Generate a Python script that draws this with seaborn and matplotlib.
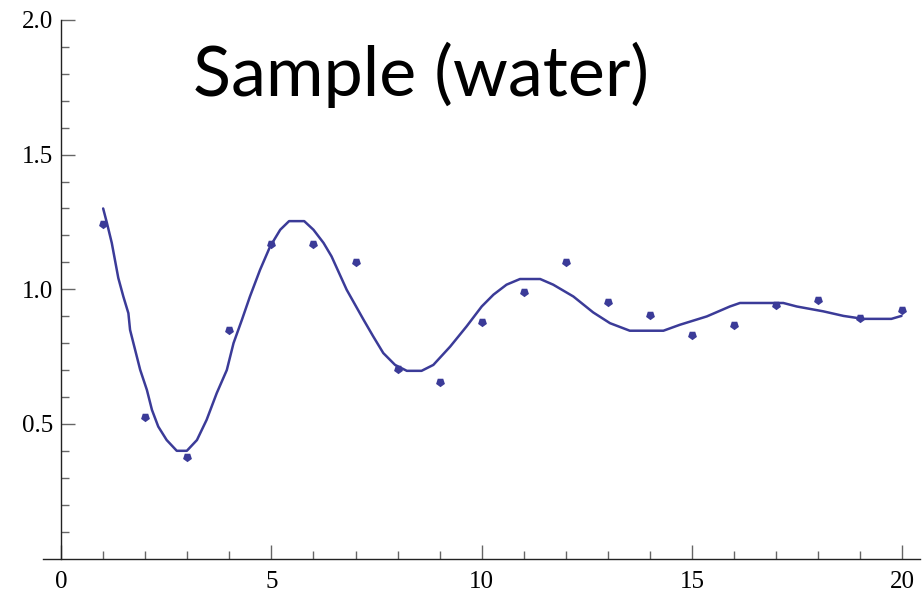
import matplotlib
matplotlib.use("Agg")
import matplotlib.pyplot as plt
from matplotlib.ticker import MultipleLocator, FixedLocator
import seaborn as sns
import pandas as pd

# Measured samples
sample_x = list(range(1, 21))
sample_y = [1.243, 0.524, 0.378, 0.849, 1.168, 1.168, 1.101, 0.703, 0.655, 0.878,
            0.990, 1.101, 0.952, 0.905, 0.831, 0.868, 0.942, 0.961, 0.895, 0.924]

# Fitted curve
fit_x = [1.00, 1.09, 1.205, 1.36, 1.48, 1.60, 1.64, 1.76, 1.88, 2.04, 2.16, 2.31, 2.51,
         2.75, 2.99, 3.23, 3.46, 3.70, 3.94, 4.10, 4.30, 4.49, 4.73, 4.97, 5.21, 5.42,
         5.78, 6.00, 6.24, 6.43, 6.79, 7.19, 7.42, 7.66, 7.94, 8.22, 8.57, 8.85, 9.25,
         9.64, 10.00, 10.28, 10.59, 10.91, 11.39, 11.70, 12.18, 12.65, 13.05, 13.52,
         14.32, 14.71, 15.35, 15.90, 16.14, 17.17, 17.49, 18.12, 18.60, 19.07, 19.74, 19.98]
fit_y = [1.300, 1.246, 1.172, 1.042, 0.973, 0.911, 0.849, 0.775, 0.701, 0.626, 0.552,
         0.490, 0.440, 0.400, 0.400, 0.440, 0.515, 0.614, 0.700, 0.800, 0.887, 0.973,
         1.072, 1.159, 1.221, 1.253, 1.253, 1.221, 1.172, 1.122, 0.998, 0.887, 0.825,
         0.763, 0.719, 0.697, 0.697, 0.719, 0.787, 0.862, 0.936, 0.980, 1.017, 1.038,
         1.038, 1.017, 0.973, 0.914, 0.874, 0.846, 0.846, 0.868, 0.899, 0.936, 0.949,
         0.949, 0.936, 0.918, 0.901, 0.890, 0.890, 0.901]

x_major = [0, 5, 10, 15, 20]
y_major = [0.5, 1.0, 1.5, 2.0]

title_text = "Sample (water)"
ink = "#3b3b98"

fit_df = pd.DataFrame({"x": fit_x, "y": fit_y})
pts_df = pd.DataFrame({"x": sample_x, "y": sample_y})

sns.set_style("ticks")
plt.rcParams["font.family"] = ["Liberation Serif", "DejaVu Serif"]

fig = plt.figure(figsize=(9.22, 5.97), dpi=100)
ax = fig.add_axes([43 / 922, 1 - 558.5 / 597, (920 - 43) / 922, (558.5 - 20) / 597])

sns.lineplot(data=fit_df, x="x", y="y", ax=ax, color=ink, linewidth=1.8,
             sort=False, estimator=None)
sns.scatterplot(data=pts_df, x="x", y="y", ax=ax, color=ink, marker=(5, 0, 180),
                s=45, linewidth=0, zorder=3)

ax.set_xlim(-0.43, 20.42)
ax.set_ylim(0, 2.0)
ax.set_xlabel("")
ax.set_ylabel("")

for side in ("top", "right"):
    ax.spines[side].set_visible(False)
ax.spines["left"].set_position(("data", 0))
for side in ("left", "bottom"):
    ax.spines[side].set_color("#222222")
    ax.spines[side].set_linewidth(1.0)

ax.xaxis.set_major_locator(FixedLocator(x_major))
ax.xaxis.set_minor_locator(MultipleLocator(1))
ax.yaxis.set_major_locator(FixedLocator(y_major))
ax.yaxis.set_minor_locator(FixedLocator([v / 10 for v in range(1, 20) if v % 5]))
ax.set_xticklabels([str(v) for v in x_major])
ax.set_yticklabels([f"{v:.1f}" for v in y_major])

ax.tick_params(axis="both", which="both", direction="in", color="#666666",
               labelsize=18, labelcolor="black", bottom=True, left=True,
               top=False, right=False)
ax.tick_params(axis="both", which="major", length=10, width=1)
ax.tick_params(axis="both", which="minor", length=5.5, width=1)
ax.tick_params(axis="x", pad=9)
ax.tick_params(axis="y", pad=6)

fig.text(421 / 922, 1 - 96 / 597, title_text, ha="center", va="baseline",
         fontsize=50.5, family=["Lato", "DejaVu Sans"], color="black")

fig.savefig("out.png", dpi=100)
